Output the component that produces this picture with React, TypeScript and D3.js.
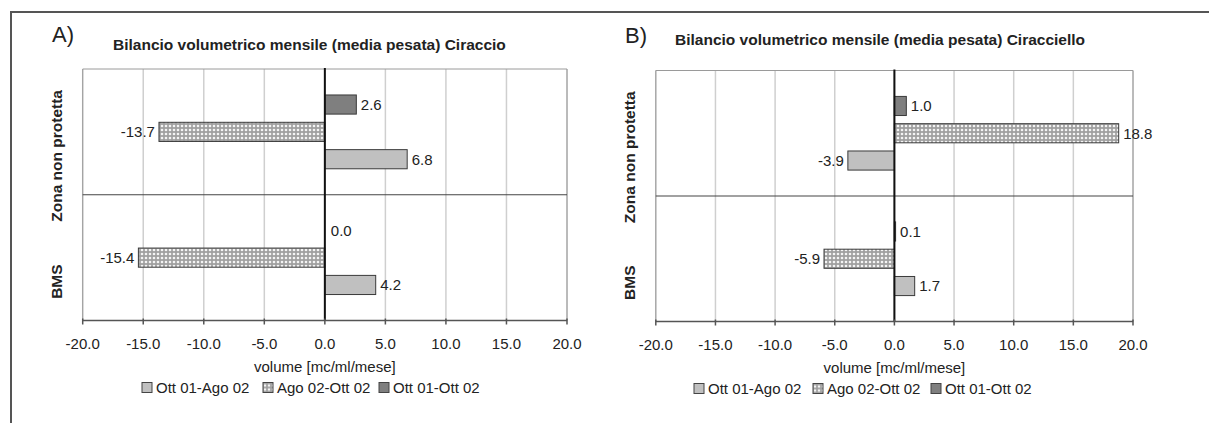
import React from "react";
import * as d3 from "d3";

// Categories (top to bottom) and series
const categories = ["Zona non protetta", "BMS"];
const seriesNames = ["Ott 01-Ago 02", "Ago 02-Ott 02", "Ott 01-Ott 02"];
const xTicks = [-20, -15, -10, -5, 0, 5, 10, 15, 20];

// Ciraccio – values per category
const ciraccioOttAgo = [6.8, 4.2];
const ciraccioAgoOtt = [-13.7, -15.4];
const ciraccioOttOtt = [2.6, 0.0];

// Ciracciello – values per category
const ciraccielloOttAgo = [-3.9, 1.7];
const ciraccielloAgoOtt = [18.8, -5.9];
const ciraccielloOttOtt = [1.0, 0.1];

const FONT = "'Liberation Sans', Arial, sans-serif";
const fills: Record<string, string> = {
  "Ott 01-Ago 02": "#c0c0c0",
  "Ago 02-Ott 02": "url(#checker)",
  "Ott 01-Ott 02": "#7f7f7f",
};

// plain hyphen for negative numbers
const locale = d3.formatLocale({
  decimal: ".",
  thousands: ",",
  grouping: [3],
  currency: ["", ""],
  minus: "-",
});
const fmt = locale.format(".1f");

type PanelProps = {
  letter: string;
  title: string;
  series: number[][]; // indexed like seriesNames
  xRange: [number, number];
  yRange: [number, number];
  letterPos: [number, number];
  titlePos: [number, number];
  legendX: number;
  legendOffsets: number[];
  catLabelX: number;
};

function Panel(p: PanelProps) {
  const x = d3.scaleLinear().domain([-20, 20]).range(p.xRange);
  const y = d3.scaleBand<string>().domain(categories).range(p.yRange).padding(0);
  // bars are stacked top-to-bottom in reverse series order
  const order = [...seriesNames].reverse();
  const sub = d3
    .scaleBand<string>()
    .domain(order)
    .range([0, y.bandwidth()])
    .paddingInner(0.3)
    .paddingOuter(0.95);
  const [top, bottom] = p.yRange;
  const [left, right] = p.xRange;

  return (
    <g>
      <text x={p.letterPos[0]} y={p.letterPos[1]} fontSize={22} fontFamily={FONT} fill="#222">
        {p.letter}
      </text>
      <text x={p.titlePos[0]} y={p.titlePos[1]} fontSize={15.5} fontWeight="bold" fontFamily={FONT} fill="#222">
        {p.title}
      </text>

      {/* gridlines */}
      {xTicks.map((t) => (
        <line key={t} x1={x(t)} x2={x(t)} y1={top} y2={bottom} stroke="#cfcfcf" strokeWidth={1.5} />
      ))}
      <line x1={left} x2={right} y1={top} y2={top} stroke="#9a9a9a" strokeWidth={1} />
      <line x1={right} x2={right} y1={top} y2={bottom} stroke="#9a9a9a" strokeWidth={1} />
      <line x1={left} x2={left} y1={top} y2={bottom} stroke="#9a9a9a" strokeWidth={1} />
      {/* category separator */}
      <line x1={left} x2={right} y1={y(categories[1])} y2={y(categories[1])} stroke="#444" strokeWidth={1.2} />

      {/* bars */}
      {categories.map((c, ci) =>
        seriesNames.map((s, si) => {
          const v = p.series[si][ci];
          const by = (y(c) as number) + (sub(s) as number);
          const x0 = x(Math.min(0, v));
          const w = Math.abs(x(v) - x(0));
          const pos = v >= 0;
          return (
            <g key={c + s}>
              {w > 0.01 && (
                <rect x={x0} y={by} width={w} height={sub.bandwidth()} fill={fills[s]} stroke="#3a3a3a" strokeWidth={1} />
              )}
              <text
                x={pos ? x(v) + (w > 0.5 ? 4.5 : 6) : x(v) - 4}
                y={by + sub.bandwidth() / 2}
                dy="0.36em"
                textAnchor={pos ? "start" : "end"}
                fontSize={15}
                fontFamily={FONT}
                fill="#222"
              >
                {fmt(v)}
              </text>
            </g>
          );
        })
      )}

      {/* zero line */}
      <line x1={x(0)} x2={x(0)} y1={top - 1} y2={bottom} stroke="#111" strokeWidth={2} />

      {/* x axis */}
      <line x1={left} x2={right} y1={bottom} y2={bottom} stroke="#555" strokeWidth={1.5} />
      {xTicks.map((t) => (
        <g key={"t" + t}>
          <line x1={x(t)} x2={x(t)} y1={bottom - 2} y2={bottom + 4} stroke="#555" strokeWidth={1.5} />
          <text x={x(t)} y={bottom + 28} textAnchor="middle" fontSize={15} fontFamily={FONT} fill="#222">
            {fmt(t)}
          </text>
        </g>
      ))}
      <text x={(left + right) / 2} y={bottom + 51} textAnchor="middle" fontSize={15} fontFamily={FONT} fill="#222">
        volume [mc/ml/mese]
      </text>

      {/* category labels */}
      {categories.map((c) => (
        <text
          key={c}
          transform={`translate(${p.catLabelX},${(y(c) as number) + y.bandwidth() / 2 + 24}) rotate(-90)`}
          textAnchor="middle"
          dy="0.36em"
          fontSize={15.5}
          fontWeight="bold"
          fontFamily={FONT}
          fill="#222"
        >
          {c}
        </text>
      ))}

      {/* legend */}
      {seriesNames.map((s, i) => (
        <g key={"l" + s} transform={`translate(${p.legendX + p.legendOffsets[i]},${bottom + 67})`}>
          <rect x={0} y={-5} width={10} height={10} fill={fills[s]} stroke="#444" strokeWidth={1} />
          <text x={14} y={0} dy="0.36em" fontSize={15} fontFamily={FONT} fill="#222">
            {s}
          </text>
        </g>
      ))}
    </g>
  );
}

export default function App() {
  return (
    <svg width={1209} height={423} style={{ position: "absolute", left: 0, top: 0, background: "#fff" }}>
      <defs>
        <pattern id="checker" width={4} height={4} patternUnits="userSpaceOnUse">
          <rect width={4} height={4} fill="#a0a0a0" />
          <circle cx={2} cy={2} r={1.3} fill="#f4f4f4" />
        </pattern>
      </defs>
      <rect width={1209} height={423} fill="#fff" />
      {/* outer frame */}
      <line x1={10} x2={1209} y1={12} y2={12} stroke="#555" strokeWidth={2} />
      <line x1={11} x2={11} y1={12} y2={423} stroke="#555" strokeWidth={2} />

      <Panel
        letter="A)"
        title="Bilancio volumetrico mensile (media pesata) Ciraccio"
        series={[ciraccioOttAgo, ciraccioAgoOtt, ciraccioOttOtt]}
        xRange={[82.7, 567]}
        yRange={[69, 320.5]}
        letterPos={[52, 42]}
        titlePos={[113, 50]}
        legendX={142}
        legendOffsets={[0, 121, 237]}
        catLabelX={56}
      />
      <Panel
        letter="B)"
        title="Bilancio volumetrico mensile (media pesata) Ciracciello"
        series={[ciraccielloOttAgo, ciraccielloAgoOtt, ciraccielloOttOtt]}
        xRange={[655.8, 1133]}
        yRange={[70.5, 321.5]}
        letterPos={[625, 43]}
        titlePos={[675, 44.5]}
        legendX={694}
        legendOffsets={[0, 119, 237]}
        catLabelX={629}
      />
    </svg>
  );
}
